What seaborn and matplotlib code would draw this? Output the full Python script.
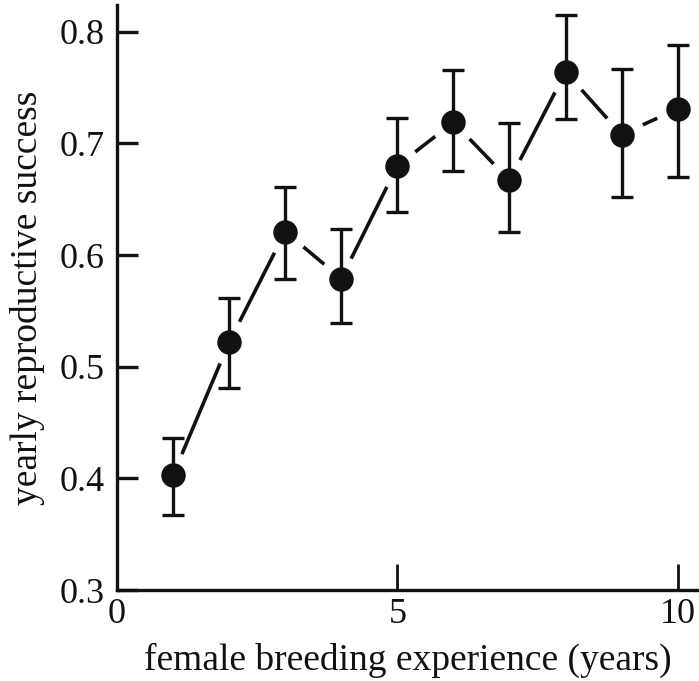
import matplotlib
matplotlib.use("Agg")
import matplotlib.pyplot as plt
import seaborn as sns
import pandas as pd

experience = [1, 2, 3, 4, 5, 6, 7, 8, 9, 10]
success = [0.403, 0.522, 0.621, 0.579, 0.680, 0.719, 0.667, 0.764, 0.708, 0.731]
upper = [0.436, 0.562, 0.661, 0.623, 0.723, 0.766, 0.718, 0.815, 0.767, 0.788]
lower = [0.367, 0.481, 0.579, 0.539, 0.639, 0.675, 0.621, 0.722, 0.652, 0.670]

df = pd.DataFrame({"x": experience, "y": success})

sns.set_theme(style="ticks")
plt.rcParams["font.family"] = ["Liberation Serif", "DejaVu Serif"]

fig = plt.figure(figsize=(6.99, 6.81), dpi=100)
ax = fig.add_axes([0.1674, 0.1336, 0.831, 0.859])

sns.lineplot(data=df, x="x", y="y", color="#111111", linewidth=2.6, ax=ax, zorder=1)
# white halo around markers (gap in line)
sns.scatterplot(data=df, x="x", y="y", color="white", s=1100, linewidth=0, ax=ax, zorder=2)
yerr = [[s - l for s, l in zip(success, lower)], [u - s for s, u in zip(success, upper)]]
ax.errorbar(experience, success, yerr=yerr, fmt="none", ecolor="#111111",
            elinewidth=2.4, capsize=8, capthick=2.4, zorder=3)
sns.scatterplot(data=df, x="x", y="y", color="#111111", s=310, linewidth=0, ax=ax, zorder=4)

ax.set_xlim(0, 10.36)
ax.set_ylim(0.3, 0.824)
ax.set_xticks([0, 5, 10])
ax.set_xticklabels(["0", "5", "10"])
ax.set_yticks([0.3, 0.4, 0.5, 0.6, 0.7, 0.8])
ax.set_yticklabels(["0.3", "0.4", "0.5", "0.6", "0.7", "0.8"])

for side in ["top", "right"]:
    ax.spines[side].set_visible(False)
for side in ["left", "bottom"]:
    ax.spines[side].set_linewidth(2.4)
    ax.spines[side].set_color("#111111")

ax.tick_params(axis="y", direction="in", length=15, width=2.4, color="#111111",
               labelsize=26, pad=9, labelcolor="#111111")
ax.tick_params(axis="x", direction="in", length=19, width=2.0, color="#111111",
               labelsize=26, pad=6, labelcolor="#111111")

ax.set_xlabel("female breeding experience (years)", fontsize=27, color="#111111", labelpad=8)
ax.set_ylabel("yearly reproductive success", fontsize=27, color="#111111", labelpad=10)

fig.savefig("out.png", dpi=100)
